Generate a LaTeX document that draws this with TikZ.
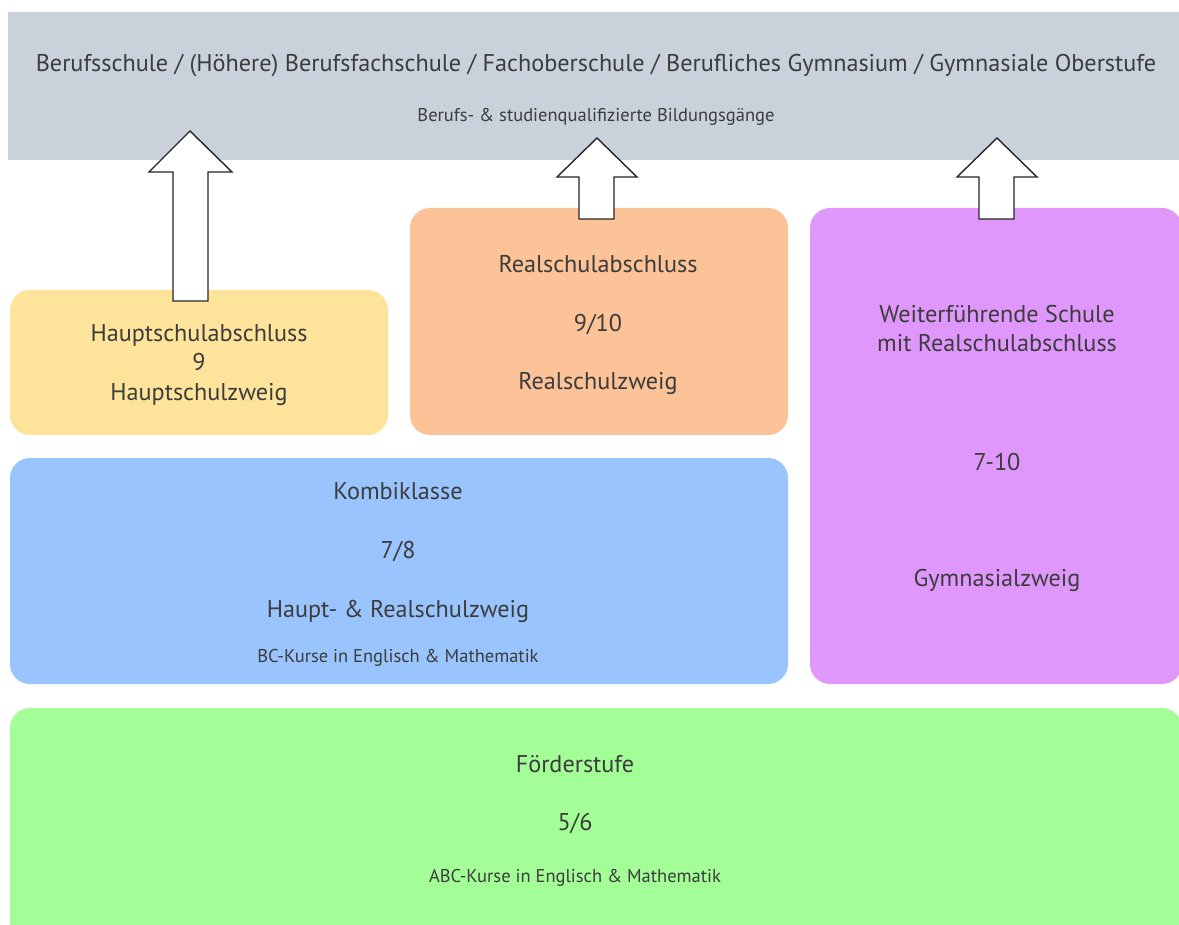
\documentclass[tikz,border=0pt]{standalone}
\usepackage{fontspec}
\setmainfont{PT Sans}
\definecolor{topgray}{HTML}{C9D1DB}
\definecolor{yel}{HTML}{FDE49A}
\definecolor{ora}{HTML}{FCC298}
\definecolor{pur}{HTML}{DF97FC}
\definecolor{blu}{HTML}{99C4FD}
\definecolor{gre}{HTML}{A3FE98}
\definecolor{txt}{HTML}{3C3C3C}
\tikzset{
  box/.style={rounded corners=20pt},
  big/.style={anchor=base, text=txt, font=\fontsize{24.2}{28}\selectfont, inner sep=0pt},
  small/.style={anchor=base, text=txt, font=\fontsize{18.5}{22}\selectfont, inner sep=0pt},
  blockarrow/.style={fill=white, draw=black!85, line width=1.4pt, line join=miter}
}
\begin{document}
\begin{tikzpicture}[x=1pt,y=-1pt]
\useasboundingbox (0,0) rectangle (1179,925);
\fill[white] (0,0) rectangle (1179,925);
\begin{scope}
\clip (0,0) rectangle (1179,925);
\fill[topgray] (8,12) rectangle (1185,160);
\fill[yel,box] (10,290) rectangle (388,435);
\fill[ora,box] (410,208) rectangle (788,435);
\fill[pur,box] (810,208) rectangle (1182,684);
\fill[blu,box] (10,458) rectangle (788,684);
\fill[gre,box] (10,708) rectangle (1182,950);
\end{scope}
% block arrows
\draw[blockarrow] (173,301) -- (173,172) -- (149,172) -- (190,131) -- (232,172) -- (208,172) -- (208,301) -- cycle;
\draw[blockarrow] (579,219) -- (579,177) -- (557,177) -- (597,138) -- (637,177) -- (614,177) -- (614,219) -- cycle;
\draw[blockarrow] (979,219) -- (979,177) -- (957,177) -- (997,138) -- (1037,177) -- (1014,177) -- (1014,219) -- cycle;
% texts
\node[big] (t1) at (596,72) {Berufsschule / (Höhere) Berufsfachschule / Fachoberschule / Berufliches Gymnasium / Gymnasiale Oberstufe};
\node[small] (t2) at (596,122) {Berufs- \& studienqualifizierte Bildungsgänge};
\node[big] (y1) at (199,342) {Hauptschulabschluss};
\node[big] (y2) at (199,371) {9};
\node[big] (y3) at (199,401) {Hauptschulzweig};
\node[big] (o1) at (598,273) {Realschulabschluss};
\node[big] (o2) at (598,332) {9/10};
\node[big] (o3) at (598,390) {Realschulzweig};
\node[big] (p1) at (997,323) {Weiterführende Schule};
\node[big] (p2) at (997,352) {mit Realschulabschluss};
\node[big] (p3) at (997,470) {7-10};
\node[big] (p4) at (997,586) {Gymnasialzweig};
\node[big] (b1) at (398,500) {Kombiklasse};
\node[big] (b2) at (398,558) {7/8};
\node[big] (b3) at (398,617) {Haupt- \& Realschulzweig};
\node[small] (b4) at (398,662) {BC-Kurse in Englisch \& Mathematik};
\node[big] (g1) at (575,772) {Förderstufe};
\node[big] (g2) at (575,830) {5/6};
\node[small] (g3) at (575,882) {ABC-Kurse in Englisch \& Mathematik};
\end{tikzpicture}
\end{document}
